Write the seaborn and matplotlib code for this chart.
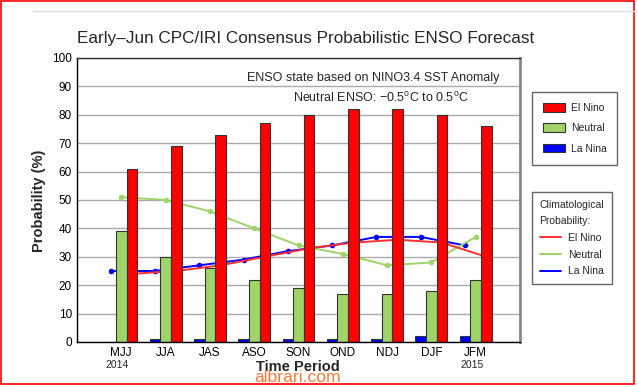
import numpy as np
import pandas as pd
import matplotlib
matplotlib.use("Agg")
import matplotlib.pyplot as plt
from matplotlib.patches import Patch, Rectangle
from matplotlib.lines import Line2D
import seaborn as sns

# ---- data ----
periods = ["MJJ", "JJA", "JAS", "ASO", "SON", "OND", "NDJ", "DJF", "JFM"]
el_nino = [61, 69, 73, 77, 80, 82, 82, 80, 76]
neutral = [39, 30, 26, 22, 19, 17, 17, 18, 22]
la_nina = [0, 1, 1, 1, 1, 1, 1, 2, 2]
clim_el_nino = [24, 25, 27, 30, 33, 35, 36, 35, 30]
clim_neutral = [51, 50, 46, 40, 34, 31, 27, 28, 37]
clim_la_nina = [25, 25, 27, 29, 32, 34, 37, 37, 34]
states = ["La Nina", "Neutral", "El Nino"]
yticks = list(range(0, 101, 10))

sns.set_style("white")
plt.rcParams["font.family"] = ["Liberation Sans", "DejaVu Sans"]

C_RED = "#ff0000"
C_GREEN = "#9fd468"
C_BLUE = "#0000ff"
L_RED = "#ff3030"
L_GREEN = "#9ed46a"

df = pd.DataFrame({
    "period": periods * 3,
    "prob": la_nina + neutral + el_nino,
    "state": ["La Nina"] * 9 + ["Neutral"] * 9 + ["El Nino"] * 9,
})

fig = plt.figure(figsize=(6.37, 3.87), dpi=100)
ax = fig.add_axes([77 / 637, 45 / 387, 443 / 637, 284 / 387])
ax.set_axisbelow(True)

bw = 0.72
sns.barplot(data=df, x="period", y="prob", hue="state", hue_order=states,
            order=periods, palette=[C_BLUE, C_GREEN, C_RED], width=bw,
            edgecolor="#333333", linewidth=0.8, legend=False, ax=ax,
            saturation=1, zorder=2)

off = bw / 3
xs = np.arange(len(periods))
ax.plot(xs - off, clim_la_nina, color=C_BLUE, lw=1.4, marker="o", ms=3, zorder=1.5)
ax.plot(xs, clim_neutral, color=L_GREEN, lw=1.4, marker="o", ms=3, zorder=1.5)
ax.plot(xs + off, clim_el_nino, color=L_RED, lw=1.4, zorder=1.5)

ax.set_xlim(-1, 9)
ax.set_ylim(0, 100)
ax.set_yticks(yticks)
ax.yaxis.grid(True, color="#aaaaaa", lw=1)
ax.xaxis.grid(False)
ax.tick_params(axis="both", length=0, labelsize=8.5, colors="black")
ax.tick_params(axis="y", pad=3.6)
ax.tick_params(axis="x", pad=3.6)

for s in ["left", "bottom"]:
    ax.spines[s].set_color("black")
    ax.spines[s].set_linewidth(1)
ax.spines["top"].set_color("#333333")
ax.spines["top"].set_linewidth(1)
ax.spines["right"].set_color("#888888")
ax.spines["right"].set_linewidth(2)

ax.set_xlabel("Time Period", fontsize=10.5, fontweight="bold")
ax.xaxis.label.set_va("center")
ax.xaxis.set_label_coords(0.498, -0.088)
ax.set_ylabel("Probability (%)", fontsize=10.5, fontweight="bold")
ax.yaxis.label.set_va("center")
ax.yaxis.set_label_coords(-0.0858, 0.496)

trx = ax.get_xaxis_transform()
ax.text(0 - 0.1, -0.081, "2014", transform=trx, ha="center", va="center", fontsize=7.5)
ax.text(8 - 0.08, -0.081, "2015", transform=trx, ha="center", va="center", fontsize=7.5)

ax.text(0.669, 0.931, "ENSO state based on NINO3.4 SST Anomaly",
        transform=ax.transAxes, ha="center", va="center", fontsize=9)
ax.text(0.687, 0.859,
        r"Neutral ENSO: $\mathregular{-}$0.5$^\mathregular{o}$C to 0.5$^\mathregular{o}$C",
        transform=ax.transAxes, ha="center", va="center", fontsize=9)

fig.text(306 / 637, 1 - 43 / 387,
         "Early\u2013Jun CPC/IRI Consensus Probabilistic ENSO Forecast",
         ha="center", va="baseline", fontsize=12.3)

# legends
h1 = [Patch(facecolor=C_RED, edgecolor="#333333", lw=0.8),
      Patch(facecolor=C_GREEN, edgecolor="#333333", lw=0.8),
      Patch(facecolor=C_BLUE, edgecolor="#333333", lw=0.8)]
leg1 = fig.legend(h1, ["El Nino", "Neutral", "La Nina"], loc="upper left",
                  bbox_to_anchor=(531.7 / 637, 1 - 92 / 387), fontsize=7.5,
                  frameon=True, fancybox=False, framealpha=1, edgecolor="#666666",
                  handlelength=2.1, handleheight=0.9, handletextpad=0.6,
                  labelspacing=1.0, borderpad=1.05, borderaxespad=0)
leg1.get_frame().set_linewidth(1)

h2 = [Line2D([], [], color=L_RED, lw=1.4),
      Line2D([], [], color=L_GREEN, lw=1.4),
      Line2D([], [], color=C_BLUE, lw=1.4)]
leg2 = fig.legend(h2, ["El Nino", "Neutral", "La Nina"], loc="upper left",
                  bbox_to_anchor=(531.7 / 637, 1 - 192.3 / 387), fontsize=7.5,
                  title="Climatological\nProbability:", title_fontsize=7.5,
                  alignment="left",
                  frameon=True, fancybox=False, framealpha=1, edgecolor="#666666",
                  handlelength=2.1, handletextpad=0.6,
                  labelspacing=0.65, borderpad=0.75, borderaxespad=0)
leg2.get_title().set_linespacing(1.75)
leg2.get_frame().set_linewidth(1)

# decorations
fig.add_artist(Line2D([33 / 637, 634 / 637], [1 - 11 / 387, 1 - 11 / 387],
                      color="#dddddd", lw=1))
fig.add_artist(Rectangle((1 / 637, 3 / 387), 633 / 637, 383 / 387,
                         fill=False, edgecolor="red", lw=1.2))
fig.text(297.5 / 637, 1 - 378 / 387, "albrari.com", ha="center", va="center",
         color="#ff7a3a", fontsize=12.6)

fig.savefig("out.png", dpi=100)
